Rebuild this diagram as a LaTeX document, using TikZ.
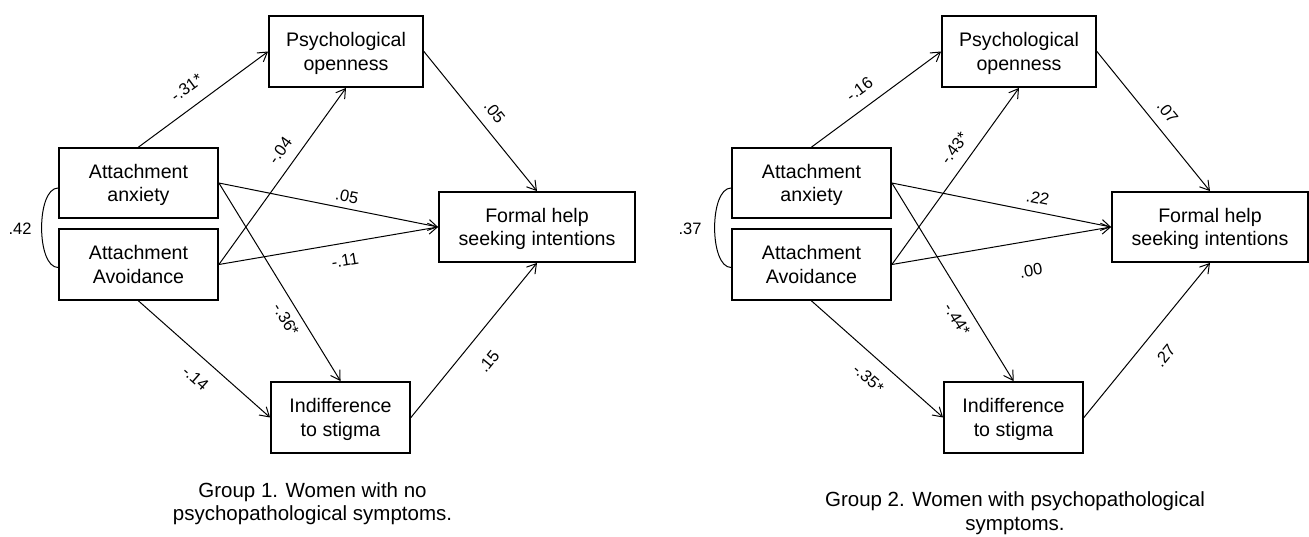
\documentclass[tikz,border=0pt]{standalone}
\usepackage{fontspec}
\setmainfont{Liberation Sans}
\usetikzlibrary{arrows.meta}
\newcommand{\boxfont}{\fontsize{19.6pt}{23.5pt}\selectfont}
\newcommand{\lblfont}{\fontsize{16.5pt}{19pt}\selectfont}
\newcommand{\capfont}{\fontsize{20.5pt}{24pt}\selectfont}
\begin{document}
\begin{tikzpicture}[x=1pt,y=-1pt,
  box/.style={draw, line width=1.8pt, align=center, font=\boxfont, inner sep=0pt, text depth=0pt},
  arr/.style={line width=1pt, -{Straight Barb[length=9pt,width=11pt]}},
  lbl/.style={font=\lblfont, inner sep=0pt, sloped},
  cor/.style={line width=1pt},
  captxt/.style={font=\capfont, anchor=base, inner sep=0pt}]
\useasboundingbox (0,0) rectangle (1309,537);

% ---------- Group 1 ----------
\node[box, minimum width=154pt, minimum height=71pt] (PO1) at (346,51.5) {Psychological\\openness};
\node[box, minimum width=159pt, minimum height=70pt] (AX1) at (138.5,183) {Attachment\\anxiety};
\node[box, minimum width=159pt, minimum height=71pt] (AV1) at (138.5,264.5) {Attachment\\Avoidance};
\node[box, minimum width=196pt, minimum height=70pt] (FH1) at (537,227) {Formal help\\seeking intentions};
\node[box, minimum width=139pt, minimum height=71pt] (IS1) at (340.5,417.5) {Indifference\\to stigma};

\draw[arr] (AX1.north) -- (PO1.west) node[lbl,pos=.46,above=13pt]{-.31*};
\draw[arr] (AV1.east) -- (PO1.south) node[lbl,pos=.59,above=10.7pt]{-.04};
\draw[arr] (AX1.east) -- (FH1.west) node[lbl,pos=.574,above=5.5pt]{.05};
\draw[arr] (AV1.east) -- (FH1.west) node[lbl,pos=.562,below=10.8pt]{-.11};
\draw[arr] (AX1.east) -- (IS1.north) node[lbl,pos=.652,below=7.9pt]{-.36*};
\draw[arr] (AV1.south) -- (IS1.west) node[lbl,pos=.535,below=14pt]{-.14};
\draw[arr] (IS1.east) -- (FH1.south) node[lbl,pos=.464,below=18.7pt]{.15};
\draw[arr] (PO1.east) -- (FH1.north) node[lbl,pos=.511,above=10.4pt]{.05};

\draw[cor] ([yshift=-5pt]AX1.west) .. controls +(-22,0) and +(-22,0) .. ([yshift=-3pt]AV1.west);
\node[font=\lblfont, inner sep=0pt] (r1) at (20,229) {.42};

\node[captxt] (c1a) at (312.5,497) {Group 1. Women with no};
\node[captxt] (c1b) at (312.5,520) {psychopathological symptoms.};

% ---------- Group 2 ----------
\begin{scope}[xshift=673pt]
\node[box, minimum width=154pt, minimum height=71pt] (PO2) at (346,51.5) {Psychological\\openness};
\node[box, minimum width=159pt, minimum height=70pt] (AX2) at (138.5,183) {Attachment\\anxiety};
\node[box, minimum width=159pt, minimum height=71pt] (AV2) at (138.5,264.5) {Attachment\\Avoidance};
\node[box, minimum width=196pt, minimum height=70pt] (FH2) at (537,227) {Formal help\\seeking intentions};
\node[box, minimum width=139pt, minimum height=71pt] (IS2) at (340.5,417.5) {Indifference\\to stigma};

\draw[arr] (AX2.north) -- (PO2.west) node[lbl,pos=.453,above=11.8pt]{-.16};
\draw[arr] (AV2.east) -- (PO2.south) node[lbl,pos=.60,above=11pt]{-.43*};
\draw[arr] (AX2.east) -- (FH2.west) node[lbl,pos=.653,above=8pt]{.22};
\draw[arr] (AV2.east) -- (FH2.west) node[lbl,pos=.612,below=23pt]{.00};
\draw[arr] (AX2.east) -- (IS2.north) node[lbl,pos=.647,below=9.6pt]{-.44*};
\draw[arr] (AV2.south) -- (IS2.west) node[lbl,pos=.535,below=14pt]{-.35*};
\draw[arr] (IS2.east) -- (FH2.south) node[lbl,pos=.496,below=17.2pt]{.27};
\draw[arr] (PO2.east) -- (FH2.north) node[lbl,pos=.511,above=10.4pt]{.07};

\draw[cor] ([yshift=-5pt]AX2.west) .. controls +(-22,0) and +(-22,0) .. ([yshift=-3pt]AV2.west);
\node[font=\lblfont, inner sep=0pt] (r2) at (17,229) {.37};
\end{scope}

\node[captxt] (c2a) at (1015,506) {Group 2. Women with psychopathological};
\node[captxt] (c2b) at (1015,530) {symptoms.};
\end{tikzpicture}
\end{document}
